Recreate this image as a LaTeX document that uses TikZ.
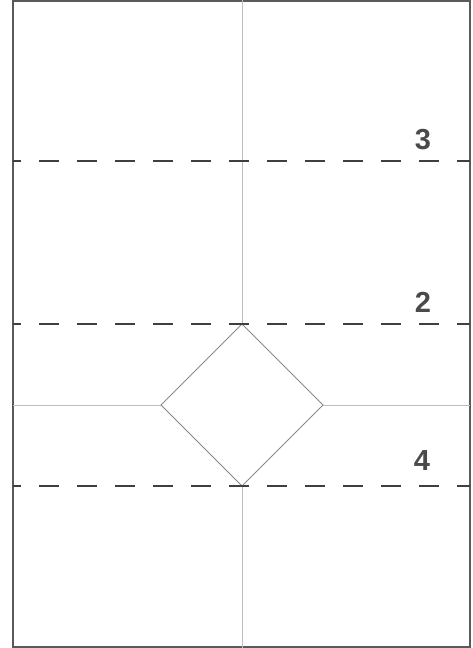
\documentclass[tikz,border=0pt]{standalone}
\usepackage{fontspec}
\setmainfont{Liberation Sans}
\usepackage{xcolor}
\usetikzlibrary{calc}
\definecolor{sheetEdge}{HTML}{5A5A5A}
\definecolor{creaseGray}{HTML}{BDBDBD}
\definecolor{foldDark}{HTML}{3F3F3F}
\definecolor{diamondGray}{HTML}{8A8A8A}
\definecolor{labelGray}{HTML}{4A4A4A}
\tikzset{
  sheet/.style={draw=sheetEdge, line width=1.5pt},
  crease/.style={draw=creaseGray, line width=0.9pt},
  foldline/.style={draw=foldDark, line width=1.2pt, dash pattern=on 20pt off 18pt, dash phase=12pt},
  flap/.style={draw=diamondGray, line width=1pt, line join=miter},
  foldnum/.style={font=\fontsize{29}{29}\selectfont\bfseries, text=labelGray, inner sep=0pt}
}
\begin{document}
\begin{tikzpicture}[x=1pt,y=-1pt]
\useasboundingbox (0,0) rectangle (473,648);

% paper sheet
\draw[sheet] (13,1) rectangle (470,647);

% diamond
\coordinate (top) at (242,324);
\coordinate (rgt) at (323,405);
\coordinate (bot) at (242,486);
\coordinate (lft) at (161,405);

% center creases, stopping at the diamond
\draw[crease] (242,0) -- (top);
\draw[crease] (bot) -- (242,648);
\draw[crease] (13,405) -- (lft);
\draw[crease] (rgt) -- (470,405);

\draw[flap] (top) -- (rgt) -- (bot) -- (lft) -- cycle;

% dashed folds
\draw[foldline] (13,161) -- (470,161);
\draw[foldline] (13,324) -- (470,324);
\draw[foldline] (13,486) -- (470,486);

% fold numbers
\node[foldnum] (n3) at (423,140) {3};
\node[foldnum] (n2) at (423,302) {2};
\node[foldnum] (n4) at (422,461) {4};

\end{tikzpicture}
\end{document}
